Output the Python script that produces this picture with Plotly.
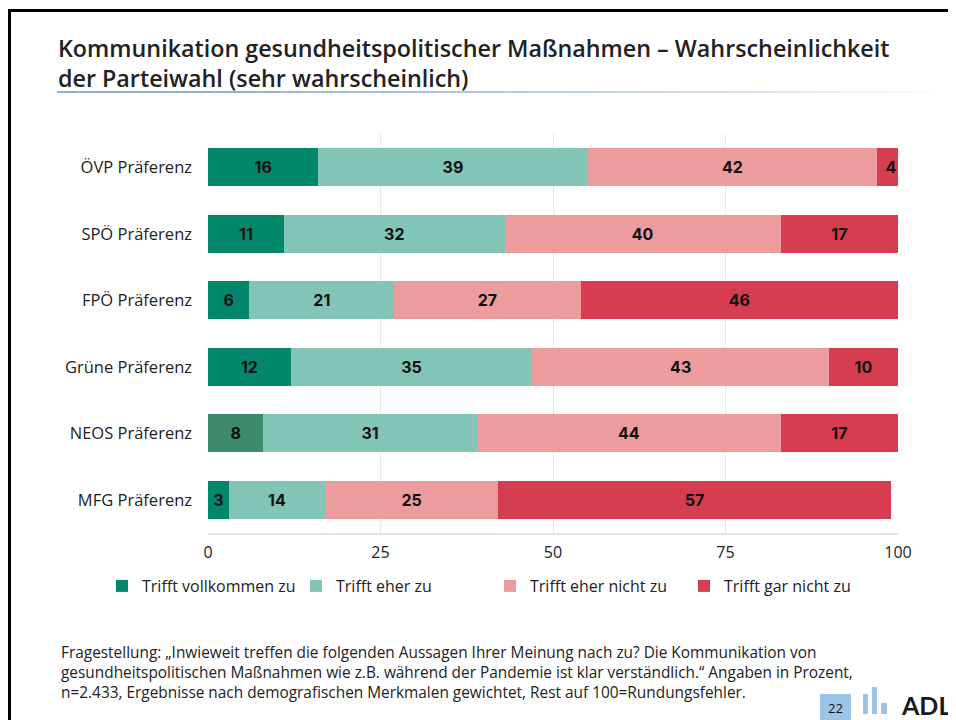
import plotly.graph_objects as go

categories = ["ÖVP Präferenz", "SPÖ Präferenz", "FPÖ Präferenz", "Grüne Präferenz", "NEOS Präferenz", "MFG Präferenz"]
series_names = ["Trifft vollkommen zu", "Trifft eher zu", "Trifft eher nicht zu", "Trifft gar nicht zu"]
voll = [16, 11, 6, 12, 8, 3]
eher = [39, 32, 21, 35, 31, 14]
eher_nicht = [42, 40, 27, 43, 44, 25]
gar_nicht = [4, 17, 46, 10, 17, 57]
x_ticks = [0, 25, 50, 75, 100]

title_lines = ["Kommunikation gesundheitspolitischer Maßnahmen – Wahrscheinlichkeit",
               "der Parteiwahl (sehr wahrscheinlich)"]
footnote_lines = ["Fragestellung: „Inwieweit treffen die folgenden Aussagen Ihrer Meinung nach zu? Die Kommunikation von",
                  "gesundheitspolitischen Maßnahmen wie z.B. während der Pandemie ist klar verständlich.“ Angaben in Prozent,",
                  "n=2.433, Ergebnisse nach demografischen Merkmalen gewichtet, Rest auf 100=Rundungsfehler."]
page_number = "22"
logo_text = "ADL"

colors = ["#02876a", "#82c4b5", "#ec9c9c", "#d63d51"]
neos_dark = "#3e8a6c"

OFF = 8  # page body margin offset
W, H = 956 - OFF, 720 - OFF
L, R, T, B = 208, 898, 134, 533   # plot area in window pixels
def px(x):
    return (x - L) / (R - L)
def py(y):
    return (B - y) / (B - T)

fig = go.Figure()
series = [voll, eher, eher_nicht, gar_nicht]
for i, (name, vals) in enumerate(zip(series_names, series)):
    mc = [colors[i]] * len(categories)
    if i == 0:
        mc[categories.index("NEOS Präferenz")] = neos_dark
    fig.add_trace(go.Bar(
        y=categories, x=vals, name=name, orientation="h",
        marker=dict(color=mc, line=dict(width=0)),
        text=[str(v) for v in vals], textposition="inside", insidetextanchor="middle",
        textfont=dict(family="Inter", size=16, color="#111111", weight="bold"),
        cliponaxis=True,
    ))

fig.update_layout(
    width=W, height=H, barmode="stack", bargap=0.43,
    margin=dict(l=L - OFF, r=W - (R - OFF), t=T - OFF, b=H - (B - OFF), pad=0),
    paper_bgcolor="white", plot_bgcolor="white",
    font=dict(family="Open Sans", size=15, color="#222222"),
    showlegend=True,
    legend=dict(orientation="h", x=px(102), y=py(569), xanchor="left", yanchor="top",
                font=dict(family="Open Sans", size=16, color="#222222"),
                itemwidth=30, entrywidth=149, entrywidthmode="pixels",
                traceorder="normal", bgcolor="rgba(0,0,0,0)"),
    uniformtext=dict(minsize=8, mode="show"),
)
fig.update_xaxes(range=[0, 100], tickvals=x_ticks, ticktext=[str(t) for t in x_ticks],
                 showgrid=True, gridcolor="#e8e8e8", gridwidth=1, zeroline=False,
                 showline=True, linecolor="#e3e3e3", linewidth=2, ticks="", ticklen=0,
                 ticklabelstandoff=4,
                 tickfont=dict(size=16, family="Open Sans", color="#222222"))
fig.update_yaxes(categoryorder="array", categoryarray=categories, autorange="reversed",
                 showgrid=False, zeroline=False, ticks="", ticklabelstandoff=15,
                 tickfont=dict(size=16.5, family="Open Sans", color="#222222"))

shapes = []
# frame lines
shapes.append(dict(type="line", xref="paper", yref="paper", x0=px(8), x1=px(956), y0=py(10.5), y1=py(10.5),
                   line=dict(color="#000000", width=3)))
shapes.append(dict(type="line", xref="paper", yref="paper", x0=px(9.5), x1=px(9.5), y0=py(9), y1=py(720),
                   line=dict(color="#000000", width=3)))
# gradient underline
n = 40
x_start, x_end = 57, 956
c0 = (143, 170, 220)
for k in range(n):
    t = k / (n - 1)
    cc = tuple(int(c0[j] + (255 - c0[j]) * (t ** 1.6)) for j in range(3))
    xa = x_start + (x_end - x_start) * k / n
    xb = x_start + (x_end - x_start) * (k + 1) / n
    shapes.append(dict(type="line", xref="paper", yref="paper", x0=px(xa), x1=px(xb), y0=py(92), y1=py(92),
                       line=dict(color="rgb(%d,%d,%d)" % cc, width=2)))
# page number box
shapes.append(dict(type="rect", xref="paper", yref="paper", x0=px(820), x1=px(851), y0=py(694), y1=py(720),
                   fillcolor="#9dc3e6", line=dict(width=0)))
# logo bars
for (xa, xb, yt) in [(863, 868, 694), (872, 877, 687), (881, 887, 703)]:
    shapes.append(dict(type="rect", xref="paper", yref="paper", x0=px(xa), x1=px(xb), y0=py(714), y1=py(yt),
                       fillcolor="#9dc3e6", line=dict(width=0)))
fig.update_layout(shapes=shapes)

annotations = [
    dict(text="<br>".join(title_lines), xref="paper", yref="paper", x=px(56), y=py(63),
         xanchor="left", yanchor="middle", align="left", showarrow=False,
         font=dict(family="Open Sans", size=23.3, color="#222222", weight=600)),
    dict(text="<br>".join(footnote_lines), xref="paper", yref="paper", x=px(59), y=py(672.5),
         xanchor="left", yanchor="middle", align="left", showarrow=False,
         font=dict(family="Open Sans", size=15.4, color="#222222")),
    dict(text=page_number, xref="paper", yref="paper", x=px(835.5), y=py(708), xanchor="center",
         yanchor="middle", showarrow=False,
         font=dict(family="Open Sans", size=13, color="#111111")),
    dict(text=logo_text, xref="paper", yref="paper", x=px(953), y=py(705), xanchor="right",
         yanchor="middle", showarrow=False,
         font=dict(family="Lato", size=25, color="#1a1a1a", weight="bold")),
]
fig.update_layout(annotations=annotations)

fig.write_html("out.html", config={"displayModeBar": False})
